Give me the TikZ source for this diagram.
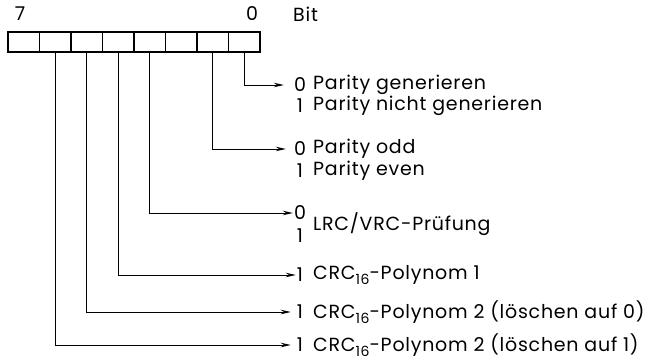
\documentclass[tikz,border=0pt]{standalone}
\usepackage{fontspec}
\setmainfont{Poppins}[LetterSpace=4]
\usetikzlibrary{arrows.meta}
\newcommand{\sixteen}{\raisebox{-0.45ex}{\fontsize{14}{14}\selectfont 16}}
\begin{document}
\begin{tikzpicture}[x=1pt,y=-1pt,
  cell/.style={draw,line width=1.3pt,minimum width=31.5pt,minimum height=20pt,inner sep=0pt,outer sep=0pt},
  conn/.style={line width=1pt,-{Stealth[length=10pt,width=4.5pt]}},
  digit/.style={inner sep=0pt,font=\fontsize{19}{19}\selectfont,anchor=center},
  lbl/.style={inner sep=0pt,font=\fontsize{19}{19}\selectfont,anchor=west},
  top/.style={inner sep=0pt,font=\fontsize{19}{19}\selectfont}]
\useasboundingbox (0,0) rectangle (649,360);
\foreach \i in {0,...,7}{
  \node[cell] (c\i) at ({244.25-31.5*\i},42) {};
}
\node[top] (t7) at (20,14) {7};
\node[top] (t0) at (252,14) {0};
\node[top,anchor=west] (tbit) at (293,14) {Bit};
% bit 0
\node[digit] (d0a) at (300,85) {0};
\node[digit] (d0b) at (300,106) {1};
\node[lbl] (l0a) at (313,85) {Parity generieren};
\node[lbl] (l0b) at (313,106) {Parity nicht generieren};
% bit 1
\node[digit] (d1a) at (300,149) {0};
\node[digit] (d1b) at (300,171) {1};
\node[lbl] (l1a) at (313,149) {Parity odd};
\node[lbl] (l1b) at (313,171) {Parity even};
% bit 3
\node[digit] (d3a) at (300,213) {0};
\node[digit] (d3b) at (300,236) {1};
\node[lbl] (l3) at (313,224) {LRC/VRC-Prüfung};
% bit 4
\node[digit] (d4) at (300,275) {1};
\node[lbl] (l4) at (313,275) {CRC\sixteen-Polynom 1};
% bit 5
\node[digit] (d5) at (300,312) {1};
\node[lbl] (l5) at (313,312) {CRC\sixteen-Polynom 2 (löschen auf 0)};
% bit 6
\node[digit] (d6) at (300,345) {1};
\node[lbl] (l6) at (313,345) {CRC\sixteen-Polynom 2 (löschen auf 1)};
% connectors
\draw[conn,shorten >=10pt] (c0.south) |- (d0a.west);
\draw[conn,shorten >=8pt] (c1.south) |- (d1a.west);
\draw[conn,shorten >=1pt] (c3.south) |- (d3a.west);
\draw[conn,shorten >=1pt] (c4.south) |- (d4.west);
\draw[conn,shorten >=6pt] (c5.south) |- (d5.west);
\draw[conn,shorten >=6pt] (c6.south) |- (d6.west);
\end{tikzpicture}
\end{document}
